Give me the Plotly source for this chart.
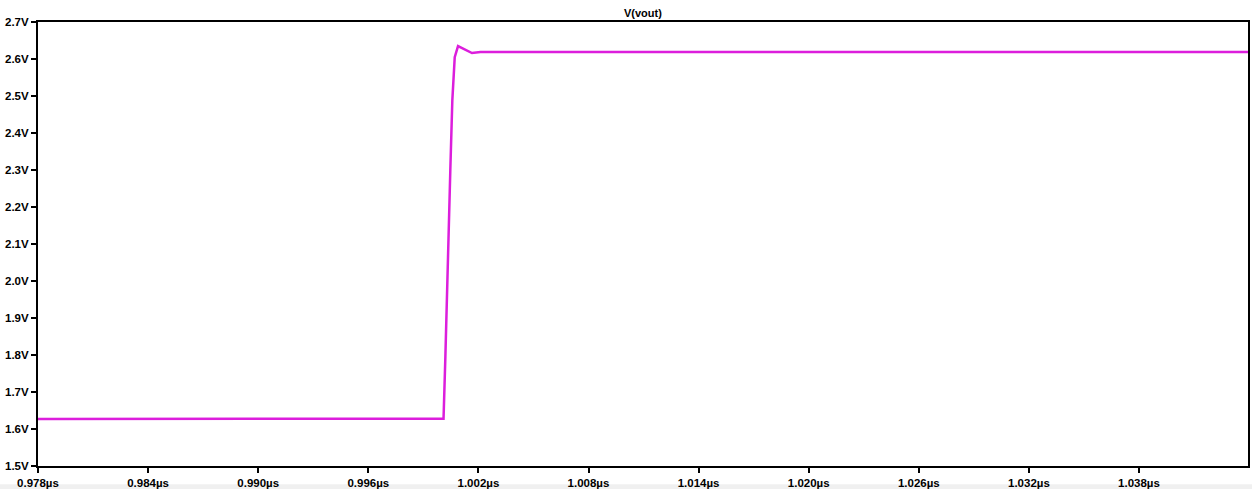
import plotly.graph_objects as go

# time in microseconds, voltage in volts
time_us = [0.978, 1.00010, 1.00020, 1.00031, 1.00039, 1.00047, 1.00058, 1.00071,
           1.00089, 1.00165, 1.00211, 1.04394]
v_out = [1.627, 1.628, 1.795, 1.976, 2.138, 2.300, 2.489, 2.605,
         2.635, 2.616, 2.619, 2.619]

x_ticks = [0.978, 0.984, 0.990, 0.996, 1.002, 1.008, 1.014, 1.020, 1.026, 1.032, 1.038]
y_ticks = [1.5, 1.6, 1.7, 1.8, 1.9, 2.0, 2.1, 2.2, 2.3, 2.4, 2.5, 2.6, 2.7]

fig = go.Figure()
fig.add_trace(go.Scatter(x=time_us, y=v_out, mode="lines",
                         line=dict(color="#dc1edc", width=2.5),
                         name="V(vout)", showlegend=False))

tickfont = dict(family="Liberation Sans, Arial, sans-serif", size=11.5, color="#000", weight="bold")

fig.update_layout(
    width=1252, height=489,
    margin=dict(l=38, r=4, t=22, b=23, autoexpand=False),
    paper_bgcolor="white", plot_bgcolor="white",
    xaxis=dict(range=[0.978, 1.04394], tickvals=x_ticks,
               ticktext=[f"{v:.3f}µs" for v in x_ticks],
               showgrid=False, zeroline=False, showline=True, mirror=True,
               linecolor="black", linewidth=2, ticks="outside", ticklen=5,
               tickwidth=2, tickcolor="black", tickfont=tickfont, automargin=False),
    yaxis=dict(range=[1.5, 2.7], tickvals=y_ticks,
               ticktext=[f"{v:.1f}V" for v in y_ticks],
               showgrid=False, zeroline=False, showline=True, mirror=True,
               linecolor="black", linewidth=2, ticks="outside", ticklen=5,
               tickwidth=2, tickcolor="black", tickfont=tickfont, automargin=False),
    annotations=[dict(text="V(vout)", x=0.5, y=1, xref="paper", yref="paper",
                      xanchor="center", yanchor="bottom", yshift=1, showarrow=False,
                      font=dict(family="Liberation Sans, Arial, sans-serif", size=11,
                                color="#000", weight="bold"))],
    shapes=[dict(type="rect", xref="paper", yref="paper", x0=-0.05, x1=1.01,
                 y0=-0.06, y1=-0.041, fillcolor="#f0f0f0", line=dict(width=0),
                 layer="below")],
)

fig.write_html("out.html")
